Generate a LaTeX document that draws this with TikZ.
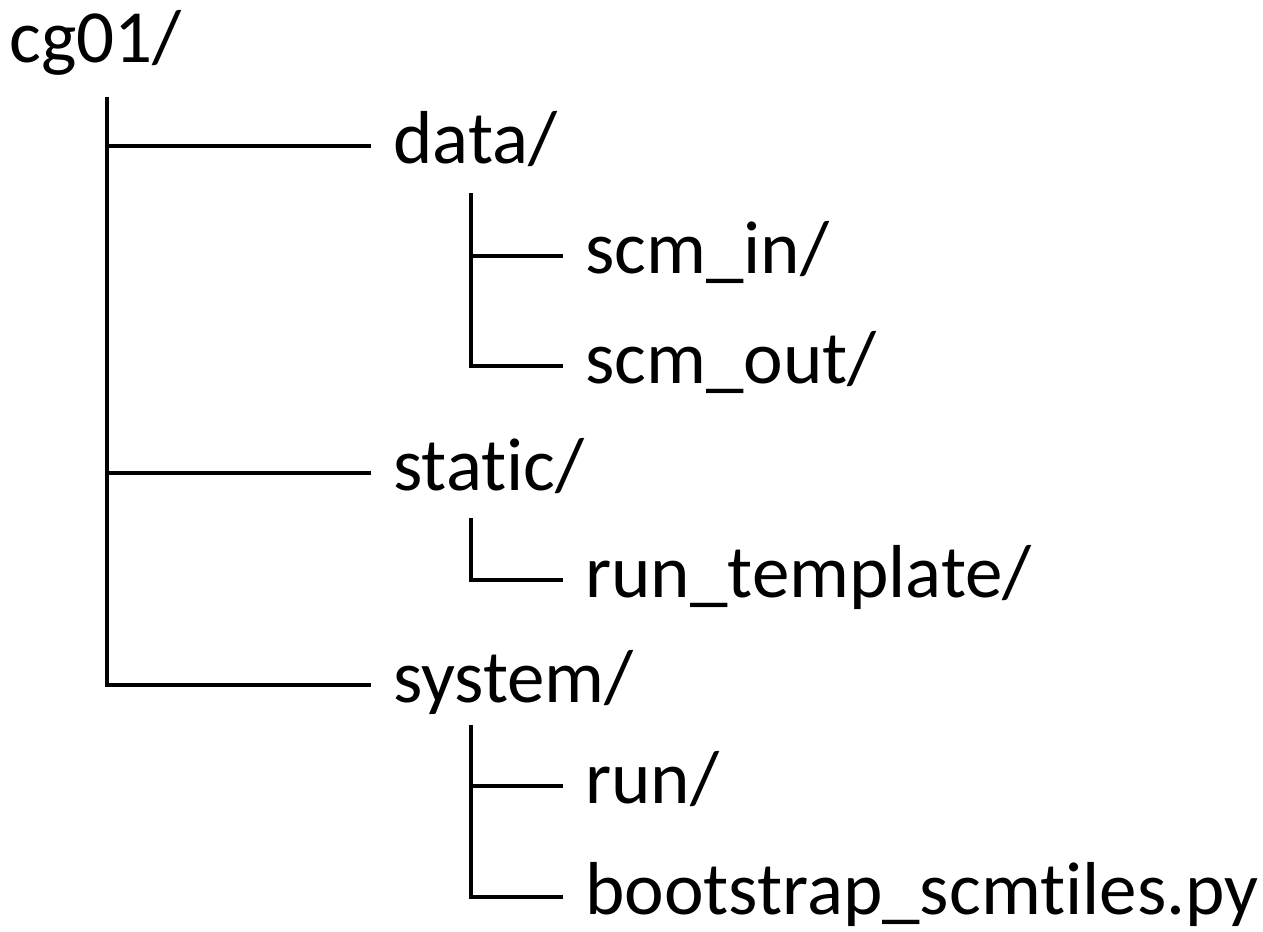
\documentclass[tikz,border=0pt]{standalone}
\usepackage{fontspec}
\setmainfont{Carlito}[Ligatures=NoCommon]
\usepackage{tikz}
\usetikzlibrary{positioning}
\usetikzlibrary{calc}
\tikzstyle{entry}=[anchor=west,inner xsep=0.44cm,inner ysep=0pt,text height=30.6pt,text depth=10.7pt,font=\fontsize{42.7pt}{51pt}\selectfont]
\tikzstyle{rootentry}=[anchor=base west,inner sep=0pt,font=\fontsize{42.7pt}{51pt}\selectfont]
\tikzstyle{treeline}=[line width=2.3pt,black]

\begin{document}
\begin{tikzpicture}[x=0.02cm,y=-0.02cm]

   \useasboundingbox[fill=white] (0,0) rectangle (1263,931);

  \node[rootentry] (cg01) at (9,62) {cg01/};

    \foreach \pos/\name/\label in {{(371,146)/data/{data/}}, {(371,473)/static/{static/}}, {(371,685)/system/{system/}}}
        \node[entry] (\name) at \pos {\label};

    \foreach \pos/\name/\label in {{(563,256)/scmin/{scm\_in/}}, {(563,366)/scmout/{scm\_out/}}, {(563,580)/runtemplate/{run\_template/}}, {(563,786)/run/{run/}}, {(563,897)/bootstrap/{bootstrap\_scmtiles.py}}}
        \node[entry] (\name) at \pos {\label};

% stems of the tree
  \coordinate (rootstem) at (107,97);
  \coordinate (datastem) at (471,193);
  \coordinate (staticstem) at (471,518);
  \coordinate (systemstem) at (471,725);

\draw[treeline] (rootstem) |- (system.west);
\draw[treeline] (rootstem |- data.west) -- (data.west);
\draw[treeline] (rootstem |- static.west) -- (static.west);

\draw[treeline] (datastem) |- (scmout.west);
\draw[treeline] (datastem |- scmin.west) -- (scmin.west);

\draw[treeline] (staticstem) |- (runtemplate.west);

\draw[treeline] (systemstem) |- (bootstrap.west);
\draw[treeline] (systemstem |- run.west) -- (run.west);

\end{tikzpicture}
\end{document}
